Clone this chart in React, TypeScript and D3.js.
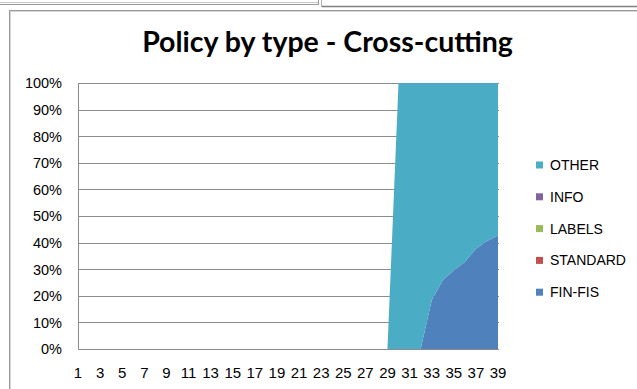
import React from "react";
import * as d3 from "d3";

const categories = [1,2,3,4,5,6,7,8,9,10,11,12,13,14,15,16,17,18,19,20,21,22,23,24,25,26,27,28,29,30,31,32,33,34,35,36,37,38,39];
const finFis =   [0,0,0,0,0,0,0,0,0,0,0,0,0,0,0,0,0,0,0,0,0,0,0,0,0,0,0,0,0,0,0,0,18.3,25.8,29.6,32.7,37.7,40.6,42.7];
const standard = [0,0,0,0,0,0,0,0,0,0,0,0,0,0,0,0,0,0,0,0,0,0,0,0,0,0,0,0,0,0,0,0,0,0,0,0,0,0,0];
const labels =   [0,0,0,0,0,0,0,0,0,0,0,0,0,0,0,0,0,0,0,0,0,0,0,0,0,0,0,0,0,0,0,0,0,0,0,0,0,0,0];
const info =     [0,0,0,0,0,0,0,0,0,0,0,0,0,0,0,0,0,0,0,0,0,0,0,0,0,0,0,0,0,0,0,0,0,0,0,0,0,0,0];
const other =    [0,0,0,0,0,0,0,0,0,0,0,0,0,0,0,0,0,0,0,0,0,0,0,0,0,0,0,0,0,100,100,100,81.7,74.2,70.4,67.3,62.3,59.4,57.3];

const seriesNames = ["FIN-FIS", "STANDARD", "LABELS", "INFO", "OTHER"];
const seriesValues = [finFis, standard, labels, info, other];
const seriesColors = ["#4F81BD", "#C0504D", "#9BBB59", "#8064A2", "#4BACC6"];
const yTicks = [0, 0.1, 0.2, 0.3, 0.4, 0.5, 0.6, 0.7, 0.8, 0.9, 1];
const title = "Policy by type - Cross-cutting";

export default function App() {
  const W = 637, H = 389;
  const left = 78, right = 498, top = 83, bottom = 349;

  const rows = categories.map((c, i) => {
    const r: any = { cat: c };
    seriesNames.forEach((n, k) => (r[n] = seriesValues[k][i]));
    return r;
  });
  const stack = d3.stack().keys(seriesNames).offset(d3.stackOffsetExpand);
  const stacked = stack(rows as any);

  const x = d3.scalePoint<number>().domain(categories).range([left, right]).padding(0);
  const y = d3.scaleLinear().domain([0, 1]).range([bottom, top]);
  const area = d3
    .area<any>()
    .x((d) => x(d.data.cat) as number)
    .y0((d) => y(d[0]))
    .y1((d) => y(d[1]));

  const fmt = d3.format(".0%");
  const font = "'Liberation Sans', Arial, sans-serif";
  const titleFont = "Lato, 'Liberation Sans', sans-serif";
  const legendOrder = [...seriesNames].reverse();
  const legendColors = [...seriesColors].reverse();

  return (
    <div style={{ position: "fixed", left: 0, top: 0, width: W, height: H, background: "#fff" }}>
      <svg width={W} height={H} style={{ display: "block" }}>
        <rect x={0} y={0} width={W} height={H} fill="#fff" />
        {/* worksheet artifacts */}
        <line x1={0} x2={318} y1={2.5} y2={2.5} stroke="#c8c8c8" />
        <line x1={0} x2={318} y1={4.5} y2={4.5} stroke="#9a9a9a" />
        <line x1={318.5} x2={318.5} y1={0} y2={5} stroke="#9a9a9a" />
        <line x1={321.5} x2={321.5} y1={0} y2={7} stroke="#b0b0b0" />
        <line x1={322} x2={W} y1={6.5} y2={6.5} stroke="#7f7f7f" strokeWidth={1.5} />
        {/* chart frame */}
        <line x1={9.5} x2={9.5} y1={10} y2={H} stroke="#9a9a9a" />
        <line x1={10.5} x2={10.5} y1={11} y2={H} stroke="#d6d6d6" />
        <line x1={9} x2={W} y1={10.5} y2={10.5} stroke="#9a9a9a" />
        <line x1={10} x2={W} y1={11.5} y2={11.5} stroke="#d6d6d6" />

        <text x={327.5} y={52} textAnchor="middle" fontFamily={titleFont} fontWeight="bold" fontSize={28.5} fill="#000">
          {title}
        </text>

        {/* gridlines */}
        {yTicks.map((t) => (
          <line key={t} x1={left} x2={right + 1} y1={Math.round(y(t)) + 0.5} y2={Math.round(y(t)) + 0.5} stroke="#8c8c8c" />
        ))}
        <line x1={left + 0.5} x2={left + 0.5} y1={top} y2={bottom + 1} stroke="#8c8c8c" />

        {stacked.map((s, i) => (
          <path key={seriesNames[i]} d={area(s as any) || ""} fill={seriesColors[i]} />
        ))}
        <line x1={left} x2={right + 1} y1={Math.round(y(0)) + 0.5} y2={Math.round(y(0)) + 0.5} stroke="#8c8c8c" />

        {yTicks.map((t) => (
          <text key={t} x={62} y={y(t) + 5.3} textAnchor="end" fontFamily={font} fontSize={14.5} fill="#000">
            {fmt(t)}
          </text>
        ))}
        {categories.filter((c) => c % 2 === 1).map((c) => (
          <text key={c} x={x(c) as number} y={378} textAnchor="middle" fontFamily={font} fontSize={15} fill="#000">
            {c}
          </text>
        ))}

        {legendOrder.map((n, i) => (
          <g key={n} transform={`translate(0, ${165 + i * 31.8})`}>
            <rect x={536} y={-3.5} width={7} height={7} fill={legendColors[i]} />
            <text x={550} y={5} fontFamily={font} fontSize={14} fill="#000">
              {n}
            </text>
          </g>
        ))}
      </svg>
    </div>
  );
}
